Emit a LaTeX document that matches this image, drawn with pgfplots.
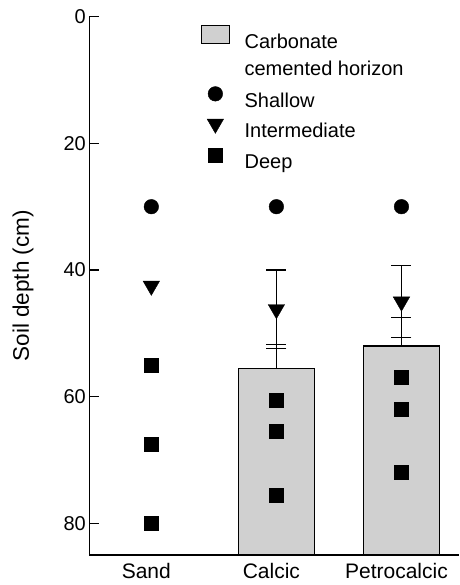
\documentclass[border=0pt]{standalone}
\usepackage{pgfplots}
\pgfplotsset{compat=1.18}
\usepackage{fontspec}
\setmainfont{Liberation Sans}
\definecolor{bargray}{RGB}{208,208,208}
\newcommand{\fs}{\fontsize{20}{24}\selectfont}
\newcommand{\fx}{\fontsize{21}{25}\selectfont}
\newcommand{\fy}{\fontsize{22.5}{27}\selectfont}
\pgfplotsset{
  markleg/.style={legend image code/.code={\draw[mark repeat=2,mark phase=2,##1] plot coordinates {(0pt,#1) (14pt,#1) (28pt,#1)};}},
  boxleg/.style={legend image code/.code={\draw[fill=bargray, draw=black, line width=1.2pt] (0pt,0pt) rectangle (28pt,17.7pt);}},
  emptyleg/.style={legend image code/.code={\path[draw=none,fill=none] (0pt,0pt) -- (28pt,0pt);}},
  myerr/.style={error bars/.cd, y dir=#1, y explicit, error mark=|,
    error bar style={line width=1.2pt, black},
    error mark options={line width=1.2pt, mark size=10pt, black}},
}
\begin{document}
\begin{tikzpicture}
\begin{axis}[
  scale only axis, width=369.7pt, height=538.3pt,
  xmin=-0.496, xmax=2.46, ymin=0, ymax=85, y dir=reverse,
  axis line style={draw=none},
  clip=false,
  xtick={0,1,2}, xticklabels={Sand,Calcic,Petrocalcic},
  x tick style={draw=none},
  ytick={0,20,40,60,80}, ytick pos=left, tick align=inside, major tick length=9.5pt,
  y tick style={line width=1.2pt, black},
  /pgf/number format/assume math mode=true,
  yticklabel style={font=\fs},
  xticklabel style={font=\fx, xshift=-5pt, yshift=-5pt},
  ylabel={Soil depth (cm)},
  ylabel style={font=\fy, at={(axis description cs:-0.179,0.5)}, anchor=center},
  legend cell align=left,
  legend style={at={(axis description cs:0.301,0.985)}, anchor=north west, draw=none, fill=none, inner sep=0pt, font=\fs, row sep=7pt, column sep=14.6pt, nodes={inner sep=0pt, text height=15pt, text depth=4.5pt}},
]
% bars (carbonate cemented horizon), drawn from the axis bottom (85 cm) up to the horizon depth
\addplot[fill=bargray, draw=black, line width=1.2pt, forget plot] coordinates {(0.696,85) (0.696,55.5) (1.304,55.5) (1.304,85)};
\addplot[fill=bargray, draw=black, line width=1.2pt, forget plot] coordinates {(1.696,85) (1.696,52.0) (2.304,52.0) (2.304,85)};
% bar error bars (one-sided, toward the surface)
\addplot[only marks, mark=*, mark size=0.01pt, black, forget plot, myerr=minus]
  coordinates {(1,55.5) +- (0,3.8) (2,52.0) +- (0,4.5)};
% intermediate error bars
\addplot[only marks, mark=*, mark size=0.01pt, black, forget plot, myerr=both]
  coordinates {(1,46.2) +- (0,6.2) (2,45.0) +- (0,5.7)};
% deep
\addplot[only marks, mark=square*, mark size=7pt, black, forget plot] coordinates {(0,55) (0,67.5) (0,80) (1,60.5) (1,65.5) (1,75.5) (2,57) (2,62) (2,72)};
% shallow
\addplot[only marks, mark=*, mark size=7.3pt, black, forget plot] coordinates {(0,30) (1,30) (2,30)};
% intermediate
\addplot[only marks, mark=triangle*, mark size=9.5pt, mark options={rotate=180}, black, forget plot] coordinates {(0,42.5) (1,46.2) (2,45.0)};
% axis lines
\draw[line width=1.2pt] (axis description cs:0,1) -- (axis description cs:0,0) -- (axis description cs:1,0);
% legend
\addlegendimage{boxleg}
\addlegendentry{Carbonate}
\addlegendimage{emptyleg}
\addlegendentry{cemented horizon}
\addlegendimage{only marks, mark=*, mark size=7.3pt, black, markleg=8.5pt}
\addlegendentry{Shallow}
\addlegendimage{only marks, mark=triangle*, mark size=9.5pt, mark options={rotate=180}, black, markleg=8pt}
\addlegendentry{Intermediate}
\addlegendimage{only marks, mark=square*, mark size=7pt, black, markleg=8pt}
\addlegendentry{Deep}
\end{axis}
\pgfresetboundingbox
\path[use as bounding box] (-89.3pt,-30pt) rectangle (369.7pt,555pt);
\end{tikzpicture}
\end{document}
